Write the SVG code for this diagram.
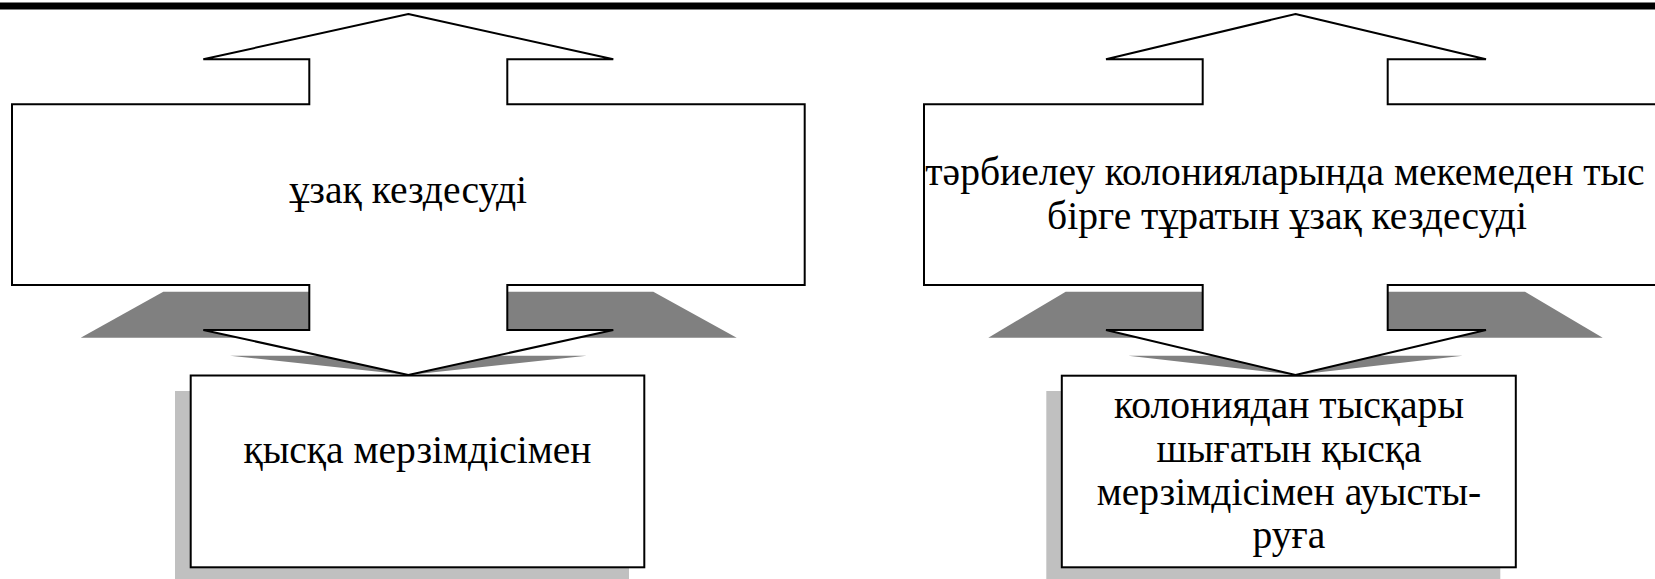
<svg xmlns="http://www.w3.org/2000/svg" width="1655" height="579" viewBox="0 0 1655 579">
<rect x="0" y="2.5" width="1655" height="7" fill="#000000"/>
<g id="connectors">
</g>
<g id="arrow-left">
<polygon fill="#808080" points="163.3,291.7 309.3,291.7 309.3,337.7 80.7,337.7"/>
<polygon fill="#808080" points="507.3,291.7 653.3,291.7 736.7,337.7 507.3,337.7"/>
<polygon fill="#808080" points="230,355.7 586.7,355.7 408.3,375"/>
<polygon fill="#ffffff" stroke="#000000" stroke-width="2" points="408.3,14 613.3,59.3 507.3,59.3 507.3,104.3 804.7,104.3 804.7,285 507.3,285 507.3,330 613.3,330 408.3,375 203.3,330 309.3,330 309.3,285 12,285 12,104.3 309.3,104.3 309.3,59.3 203.3,59.3"/>
<text x="408.3" y="203" font-family="Times New Roman, serif" font-size="39.6" text-anchor="middle">ұзақ кездесуді</text>
</g>
<g id="box-left">
<rect fill="#c0c0c0" x="175" y="391" width="454" height="192"/>
<rect fill="#ffffff" stroke="#000000" stroke-width="2" x="190.7" y="375.5" width="453.6" height="191.8"/>
<text x="417.5" y="463" font-family="serif" font-size="39.6" text-anchor="middle">қысқа мерзімдісімен</text>
</g>
<g id="arrow-right">
<polygon fill="#808080" points="1065.7,291.7 1202.7,291.7 1202.7,337.7 988.3,337.7"/>
<polygon fill="#808080" points="1387.7,291.7 1525,291.7 1602.7,337.7 1387.7,337.7"/>
<polygon fill="#808080" points="1128.3,355.7 1462.7,355.7 1295.5,375"/>
<polygon fill="#ffffff" stroke="#000000" stroke-width="2" points="1295.5,14 1486,59.3 1387.7,59.3 1387.7,104.3 1667,104.3 1667,285 1387.7,285 1387.7,330 1486,330 1295.5,375 1106,330 1202.7,330 1202.7,285 924,285 924,104.3 1202.7,104.3 1202.7,59.3 1106,59.3"/>
<text x="1285" y="185" font-family="Liberation Serif, serif" font-size="39.6" text-anchor="middle" xml:lang="ru">тәрбиелеу колонияларында мекемеден тыс</text>
<text x="1287" y="229" font-family="Liberation Serif, serif" font-size="39.6" text-anchor="middle" xml:lang="kk">бірге тұратын ұзақ кездесуді</text>
</g>
<g id="box-right">
<rect fill="#c0c0c0" x="1046.3" y="391" width="454" height="192"/>
<rect fill="#ffffff" stroke="#000000" stroke-width="2" x="1061.8" y="375.7" width="454" height="191.6"/>
<text x="1289" y="418" font-family="Times New Roman, serif" font-size="39.6" text-anchor="middle">колониядан тысқары</text>
<text x="1289" y="462" font-family="Times New Roman, serif" font-size="39.6" text-anchor="middle">шығатын қысқа</text>
<text x="1289" y="505" font-family="Times New Roman, serif" font-size="39.6" text-anchor="middle">мерзімдісімен ауысты-</text>
<text x="1289" y="548" font-family="Times New Roman, serif" font-size="39.6" text-anchor="middle">руға</text>
</g>
</svg>
